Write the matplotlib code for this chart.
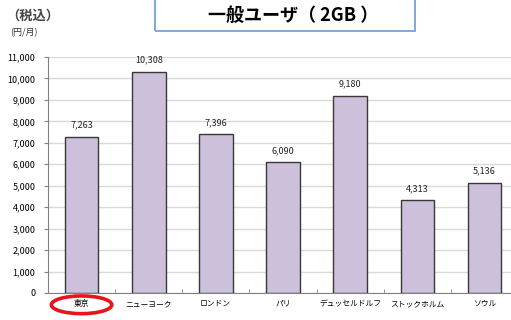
import matplotlib
matplotlib.use("Agg")
import matplotlib.pyplot as plt
from matplotlib.patches import Ellipse, Rectangle

plt.rcParams['font.family'] = ['Noto Sans CJK JP', 'DejaVu Sans']

cities = ["東京", "ニューヨーク", "ロンドン", "パリ", "デュッセルドルフ", "ストックホルム", "ソウル"]
prices = [7263, 10308, 7396, 6090, 9180, 4313, 5136]
yticks = list(range(0, 11001, 1000))

W, H = 511, 320
fig = plt.figure(figsize=(W / 100, H / 100), dpi=100)
ax = fig.add_axes([48 / W, 1 - 293 / H, 470 / W, 236 / H])

x = list(range(len(cities)))
ax.bar(x, prices, width=0.5, color="#CCC0DA", edgecolor="#383838", linewidth=1.0, zorder=3)
for xi, v in zip(x, prices):
    ax.text(xi, v + 350, f"{v:,}", ha="center", va="bottom", fontsize=6.5, color="#222222")

ax.set_xlim(-0.5, len(cities) - 0.5)
ax.set_ylim(0, 11000)
ax.set_yticks(yticks)
ax.set_yticklabels([f"{t:,}" for t in yticks], fontsize=6.5)
ax.set_xticks(x)
ax.set_xticklabels(cities, fontsize=5.6)
ax.tick_params(axis="x", length=0, pad=5)
ax.tick_params(axis="y", length=3, width=0.8, color="#808080", pad=6)
# category separators on the baseline
ax.set_xticks([i + 0.5 for i in x[:-1]], minor=True)
ax.tick_params(axis="x", which="minor", direction="in", length=3, color="#808080")

ax.grid(axis="y", color="#D9D9D9", linewidth=1.0, zorder=0)
ax.set_axisbelow(True)
for s in ["top", "right"]:
    ax.spines[s].set_visible(False)
ax.spines["left"].set_color("#808080")
ax.spines["bottom"].set_color("#808080")

# highlight Tokyo
ell = Ellipse((0, -0.05), width=0.9, height=0.075, transform=ax.get_xaxis_transform(),
              fill=False, edgecolor="#E8141B", linewidth=2.6, clip_on=False, zorder=5)
ax.add_patch(ell)

# title box
box = Rectangle((155 / W, 1 - 31 / H), 260 / W, 40 / H, transform=fig.transFigure,
                fill=False, edgecolor="#6A9BD8", linewidth=1.2)
fig.patches.append(box)
fig.text(293 / W, 1 - 15 / H, "一般ユーザ（ 2GB ）", ha="center", va="center",
         fontsize=13, fontweight="bold")

fig.text(6 / W, 1 - 16 / H, "（税込）", ha="left", va="center", fontsize=9.5,
         fontweight="bold", color="#444444")
fig.text(10 / W, 1 - 33 / H, "(円/月)", ha="left", va="center", fontsize=6.5, color="#333333")

fig.savefig("out.png", dpi=100)
